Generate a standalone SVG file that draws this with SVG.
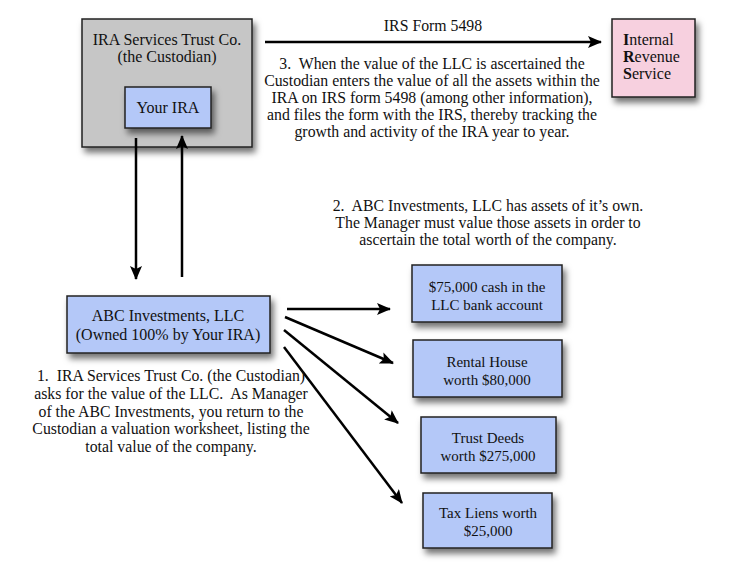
<svg xmlns="http://www.w3.org/2000/svg" width="735" height="574" viewBox="0 0 735 574" xml:space="preserve">
<style>
text{font-family:"Liberation Serif","Times New Roman",serif;fill:#111;white-space:pre;}
.lbl{font-size:16px;text-anchor:middle;}
.par{font-size:15.8px;text-anchor:middle;}
.ast{font-size:15px;text-anchor:middle;}
.box{stroke:#222;stroke-width:1.5;}
.gray{fill:#c6c6c6;}
.blue{fill:#b4c8f8;}
.pink{fill:#f7d0df;}
.arr{stroke:#000;stroke-width:2.5;fill:none;marker-end:url(#ah);}
</style>
<defs>
<filter id="sh" x="-20%" y="-20%" width="150%" height="160%">
<feDropShadow dx="3" dy="5" stdDeviation="3" flood-color="#000" flood-opacity="0.55"/>
</filter>
<marker id="ah" markerUnits="userSpaceOnUse" markerWidth="14" markerHeight="12" refX="13" refY="6" orient="auto" viewBox="0 0 14 12">
<path d="M0,0 L14,6 L0,12 L3,6 z" fill="#000"/>
</marker>
</defs>
<rect width="735" height="574" fill="#fff"/>
<g id="custodian">
<rect class="box gray" x="82" y="19" width="170" height="128" filter="url(#sh)"/>
<text class="lbl" x="167" y="45">IRA Services Trust Co.</text>
<text class="lbl" x="167" y="62">(the Custodian)</text>
</g>
<g id="your-ira">
<rect class="box blue" x="125" y="87" width="86" height="41" filter="url(#sh)"/>
<text class="lbl" x="168" y="113">Your IRA</text>
</g>
<g id="irs">
<rect class="box pink" x="612" y="19" width="83" height="78" filter="url(#sh)"/>
<text x="623" y="45" style="font-size:16px"><tspan font-weight="bold">I</tspan>nternal</text>
<text x="623" y="62" style="font-size:16px"><tspan font-weight="bold">R</tspan>evenue</text>
<text x="623" y="79" style="font-size:16px"><tspan font-weight="bold">S</tspan>ervice</text>
</g>
<g id="abc">
<rect class="box blue" x="67" y="296" width="203" height="57" filter="url(#sh)"/>
<text class="lbl" x="168" y="321">ABC Investments, LLC</text>
<text class="lbl" x="168" y="340">(Owned 100% by Your IRA)</text>
</g>
<g id="cash">
<rect class="box blue" x="412" y="265" width="150" height="57" filter="url(#sh)"/>
<text class="ast" x="487" y="292">$75,000 cash in the</text>
<text class="ast" x="487" y="310">LLC bank account</text>
</g>
<g id="rental">
<rect class="box blue" x="413" y="340" width="149" height="57" filter="url(#sh)"/>
<text class="ast" x="487" y="367">Rental House</text>
<text class="ast" x="487" y="385">worth $80,000</text>
</g>
<g id="trust">
<rect class="box blue" x="421" y="417" width="135" height="56" filter="url(#sh)"/>
<text class="ast" x="488" y="443">Trust Deeds</text>
<text class="ast" x="488" y="461">worth $275,000</text>
</g>
<g id="liens">
<rect class="box blue" x="423" y="493" width="129" height="55" filter="url(#sh)"/>
<text class="ast" x="488" y="518">Tax Liens worth</text>
<text class="ast" x="488" y="536">$25,000</text>
</g>
<g id="connectors">
<line class="arr" x1="265" y1="42" x2="601" y2="42"/>
<line class="arr" x1="136" y1="138" x2="136" y2="279"/>
<line class="arr" x1="182" y1="277" x2="182" y2="136"/>
<line class="arr" x1="287" y1="309" x2="390" y2="309"/>
<line class="arr" x1="285" y1="317" x2="393" y2="363"/>
<line class="arr" x1="284" y1="330" x2="398" y2="423"/>
<line class="arr" x1="284" y1="347" x2="402" y2="503"/>
</g>
<g id="labels">
<text class="par" x="433" y="31">IRS Form 5498</text>
<text class="par" x="432" y="69">3.  When the value of the LLC is ascertained the</text>
<text class="par" x="432" y="86">Custodian enters the value of all the assets within the</text>
<text class="par" x="432" y="103">IRA on IRS form 5498 (among other information),</text>
<text class="par" x="432" y="120">and files the form with the IRS, thereby tracking the</text>
<text class="par" x="432" y="137">growth and activity of the IRA year to year.</text>
<text class="par" x="488" y="211">2.  ABC Investments, LLC has assets of it’s own.</text>
<text class="par" x="488" y="228">The Manager must value those assets in order to</text>
<text class="par" x="488" y="245">ascertain the total worth of the company.</text>
<text class="par" x="171" y="381">1.  IRA Services Trust Co. (the Custodian)</text>
<text class="par" x="171" y="399">asks for the value of the LLC.  As Manager</text>
<text class="par" x="171" y="417">of the ABC Investments, you return to the</text>
<text class="par" x="171" y="434">Custodian a valuation worksheet, listing the</text>
<text class="par" x="171" y="452">total value of the company.</text>
</g>
</svg>
